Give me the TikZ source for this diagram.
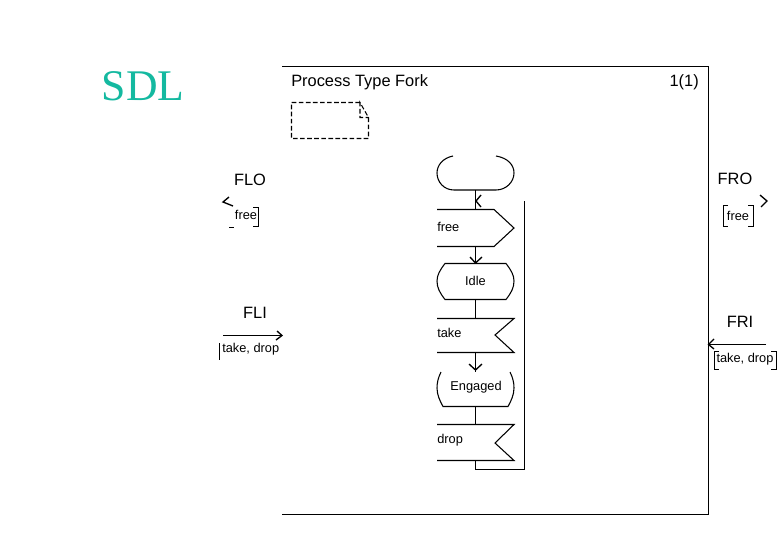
\documentclass[tikz,border=0pt]{standalone}
\usepackage{fontspec}
\setmainfont{Liberation Sans}
\newfontfamily\titleserif{Liberation Serif}
\definecolor{sdlteal}{RGB}{20,185,160}
\tikzset{
  x=0.75pt,y=-0.75pt,
  shapeline/.style={draw=black,line width=0.8pt,line join=miter},
  conn/.style={draw=black,line width=0.75pt},
  chev/.style={draw=black,line width=1pt},
  big/.style={inner sep=0pt,font=\fontsize{12.3}{14}\selectfont},
  small/.style={inner sep=0pt,font=\fontsize{9.6}{11}\selectfont},
}
\begin{document}
\begin{tikzpicture}
\useasboundingbox (0,0) rectangle (780,540);
\fill[white] (0,0) rectangle (780,540);
\node[inner sep=0pt,text=sdlteal,font=\titleserif\fontsize{32.8}{36}\selectfont] (sdl) at (143,86) {SDL};
% frame
\draw[conn] (282,66.5) -- (708.5,66.5) -- (708.5,514.5) -- (282,514.5);
\node[big,anchor=west] (title) at (291,82) {Process Type Fork};
\node[big,anchor=east] (page) at (699,82) {1(1)};
% text symbol
\draw[draw=black,line width=0.8pt,dash pattern=on 3.5pt off 1.8pt]
  (360,102.5) -- (291.5,102.5) -- (291.5,138.5) -- (368.5,138.5) -- (368.5,117.5) -- (360,102.5) -- (360,117.5) -- (368.5,117.5);
% start
\draw[shapeline] (453,156) .. controls (443,158) and (437,165) .. (437,173) .. controls (437,182) and (444,190) .. (454,190)
  -- (496,190) .. controls (506,190) and (514,182) .. (514,173) .. controls (514,165) and (508,158) .. (496,156);
\coordinate (startS) at (475.5,190);
% output free
\draw[shapeline] (437,209.5) -- (494,209.5) -- (514,228) -- (494,246.5) -- (437,246.5);
\coordinate (freeN) at (475.5,209.5);
\coordinate (freeS) at (475.5,246.5);
\node[small,anchor=west] (lfree) at (437,226.5) {free};
% state idle
\draw[shapeline] (445,263.5) .. controls (440,270) and (437,275) .. (437,281) .. controls (437,288) and (440,293) .. (445,299.5)
  -- (506,299.5) .. controls (511,293) and (514,288) .. (514,281) .. controls (514,275) and (511,270) .. (506,263.5) -- cycle;
\coordinate (idleN) at (475.5,263.5);
\coordinate (idleS) at (475.5,299.5);
\node[small] (lidle) at (475.5,281) {Idle};
% input take
\draw[shapeline] (437,318.5) -- (514,318.5) -- (495,335) -- (514,352.5) -- (437,352.5);
\coordinate (takeN) at (475.5,318.5);
\coordinate (takeS) at (475.5,352.5);
\node[small,anchor=west] (ltake) at (437,333) {take};
% state engaged
\draw[shapeline] (441,372) .. controls (438,378) and (437,383) .. (437,388) .. controls (437,395) and (440,401) .. (443,406.5)
  -- (508,406.5) .. controls (511,401) and (514,395) .. (514,388) .. controls (514,383) and (513,378) .. (510,372);
\coordinate (engN) at (475.5,372);
\coordinate (engS) at (475.5,406.5);
\node[small] (leng) at (476,387) {Engaged};
% input drop
\draw[shapeline] (437,424.5) -- (514,424.5) -- (495,443) -- (514,460.5) -- (437,460.5);
\coordinate (dropN) at (475.5,424.5);
\coordinate (dropS) at (475.5,460.5);
\node[small,anchor=west] (ldrop) at (437,440) {drop};
% connectors
\coordinate (backTop) at (524.5,201);
\draw[conn] (startS) -- (freeN);
\draw[conn] (freeS) -- (idleN);
\draw[conn] (idleS) -- (takeN);
\draw[conn] (takeS) -- (engN);
\draw[conn] (engS) -- (dropN);
\draw[conn] (dropS) -- (475.5,469.5) -- (524.5,469.5) -- (backTop);
% chevrons
\draw[chev] (481,195) -- (476,201) -- (481,207);
\draw[chev] (470,257) -- (475.5,263) -- (482,257);
\draw[chev] (469,364) -- (475.5,370) -- (482,364);
% FLO
\node[big] (flo) at (250,180) {FLO};
\draw[chev] (229,197) -- (223,202) -- (233,206);
\node[small] (lflo) at (246,215) {free};
\draw[conn] (253,207.5) -- (258.5,207.5) -- (258.5,226.5) -- (253,226.5);
\draw[conn] (229,227.5) -- (234,227.5);
% FLI
\node[big] (fli) at (255,313) {FLI};
\coordinate (fliA) at (223,335.5);
\coordinate (fliB) at (282,335.5);
\draw[conn] (fliA) -- (fliB);
\draw[chev] (277,331) -- (282,335.5) -- (276,340);
\draw[conn] (219.5,343) -- (219.5,360);
\node[small,anchor=west] (lfli) at (222,349.5) {take, drop};
% FRO
\node[big] (fro) at (735,179) {FRO};
\draw[chev] (760,195) -- (767,201) -- (761,207);
\node[small] (lfro) at (738,216) {free};
\draw[conn] (728,205.5) -- (723.5,205.5) -- (723.5,226.5) -- (728,226.5);
\draw[conn] (748,205.5) -- (753.5,205.5) -- (753.5,226.5) -- (748,226.5);
% FRI
\node[big] (fri) at (740,322) {FRI};
\coordinate (friA) at (766,344.5);
\coordinate (friB) at (708.5,344.5);
\draw[conn] (friA) -- (friB);
\draw[chev] (714,339) -- (708.5,344.5) -- (714,349);
\node[small] (lfri) at (745,359) {take, drop};
\draw[conn] (719,351.5) -- (714.5,351.5) -- (714.5,369.5) -- (719,369.5);
\draw[conn] (771,351.5) -- (776.5,351.5) -- (776.5,369.5) -- (771,369.5);
\end{tikzpicture}
\end{document}
